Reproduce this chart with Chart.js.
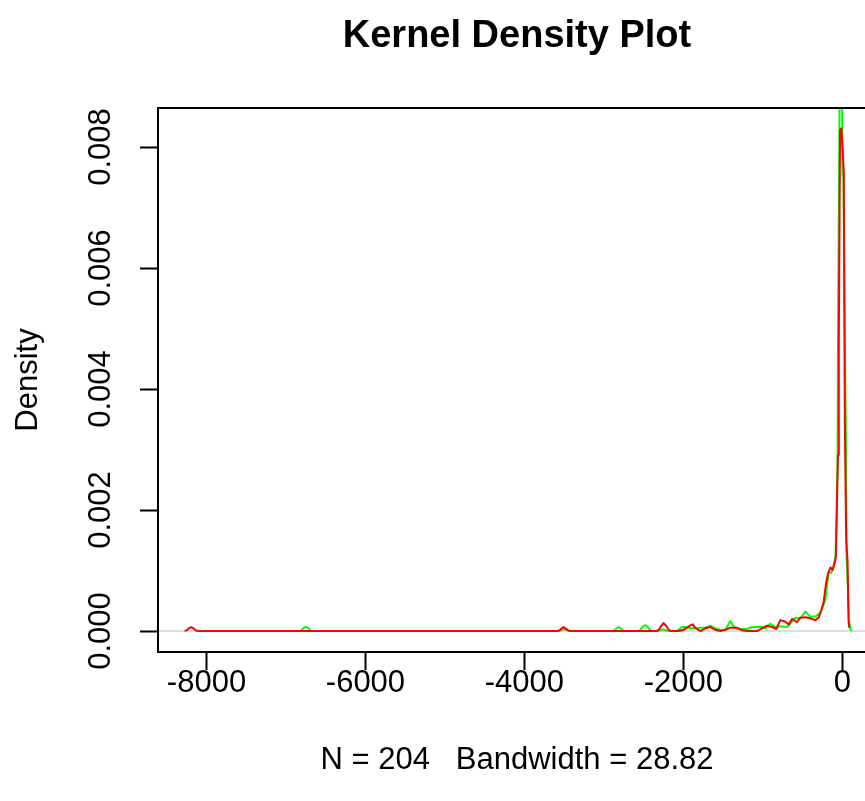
<!DOCTYPE html>
<html>
<head>
<meta charset="utf-8">
<title>Kernel Density Plot</title>
<script src="https://cdn.jsdelivr.net/npm/chart.js@4.4.1/dist/chart.umd.min.js"></script>
<style>
    html, body { margin: 0; padding: 0; background: #fff; overflow: hidden; }
    #wrap { width: 880px; height: 801px; position: relative; }
</style>
</head>
<body>
<div id="wrap"><canvas id="chartDensity"></canvas></div>
<script>
/* ============================================================
   Datos
   ============================================================ */

const xTicks = [-8000, -6000, -4000, -2000, 0];
const yTicks = [0, 0.002, 0.004, 0.006, 0.008];
const xRange = [-8610, 423];
const yRange = [-0.000347, 0.008645];

// curva roja [x, densidad]
const redCurve = [
    [-8275, 0], [-8250, 0.000010], [-8220, 0.000045], [-8193, 0.000066], [-8165, 0.000045], [-8135, 0.000010], [-8110, 0],
    [-3590, 0], [-3560, 0.000010], [-3535, 0.000040], [-3508, 0.000066], [-3480, 0.000040], [-3450, 0.000010], [-3425, 0],
    [-2340, 0], [-2310, 0.000020], [-2280, 0.000080], [-2250, 0.000130], [-2220, 0.000090], [-2190, 0.000030], [-2160, 0],
    [-2060, 0], [-2000, 0.000020], [-1950, 0.000060], [-1905, 0.000100], [-1880, 0.000110], [-1850, 0.000050], [-1800, 0.000010], [-1787, 0],
    [-1724, 0.000045], [-1661, 0.000066], [-1598, 0.000020], [-1535, 0], [-1473, 0.000020], [-1410, 0.000055], [-1325, 0.000055], [-1262, 0.000012], [-1199, 0],
    [-1073, 0], [-1011, 0.000045], [-948, 0.000088], [-885, 0.000066], [-831, 0.000033], [-780, 0.000180], [-717, 0.000154], [-676, 0.000110],
    [-633, 0.000200], [-570, 0.000144], [-529, 0.000220], [-466, 0.000226], [-403, 0.000210], [-340, 0.000180], [-298, 0.000226],
    [-264, 0.000347], [-235, 0.000484], [-205, 0.000790], [-180, 0.000950], [-151, 0.001050], [-122, 0.001010], [-97, 0.001120],
    [-81, 0.001240], [-72, 0.001950], [-55, 0.002910], [-45, 0.004730], [-29, 0.008280], [-13, 0.008310], [4, 0.007950],
    [18, 0.007590], [31, 0.003440], [48, 0.001500], [65, 0.001170], [78, 0.000150], [88, 0.000050]
];

// curva verde [x, densidad]
const greenCurve = [
    [-6840, 0], [-6810, 0.000010], [-6780, 0.000050], [-6750, 0.000070], [-6720, 0.000050], [-6690, 0.000010], [-6660, 0],
    [-3560, 0], [-3530, 0.000020], [-3500, 0.000030], [-3470, 0.000020], [-3440, 0],
    [-2900, 0], [-2870, 0.000010], [-2845, 0.000040], [-2815, 0.000066], [-2785, 0.000040], [-2760, 0.000010], [-2730, 0],
    [-2570, 0], [-2540, 0.000020], [-2510, 0.000070], [-2480, 0.000100], [-2450, 0.000070], [-2420, 0.000020], [-2390, 0],
    [-2320, 0], [-2260, 0.000030], [-2200, 0],
    [-2090, 0], [-2060, 0.000020], [-2030, 0.000060], [-2000, 0.000070], [-1960, 0.000060], [-1913, 0.000045], [-1850, 0.000045],
    [-1787, 0.000055], [-1724, 0.000055], [-1661, 0.000088], [-1598, 0.000045], [-1535, 0.000017], [-1473, 0.000017],
    [-1410, 0.000165], [-1372, 0.000083], [-1325, 0.000033], [-1199, 0.000033], [-1133, 0.000066], [-1007, 0.000066],
    [-969, 0.000045], [-906, 0.000120], [-843, 0.000066], [-780, 0.000080], [-696, 0.000066], [-633, 0.000154], [-592, 0.000220],
    [-529, 0.000210], [-466, 0.000320], [-403, 0.000240], [-340, 0.000240], [-277, 0.000300], [-214, 0.000510], [-172, 0.000980],
    [-138, 0.000960], [-88, 0.001200], [-69, 0.001950], [-60, 0.002900], [-54, 0.005140], [-35, 0.008800], [-21, 0.009500],
    [-6, 0.009000], [3, 0.007540], [13, 0.007500], [28, 0.005200], [44, 0.003300], [53, 0.001200], [67, 0.000800],
    [82, 0.000200], [100, 0.000030], [115, 0]
];

const FONT = "'Liberation Sans', Arial, sans-serif";

/* ============================================================
   Helpers
   ============================================================ */
function toPoints(pairs) {
    return pairs.map(p => ({ x: p[0], y: p[1] }));
}

// marco del área del gráfico (box() de R)
const boxPlugin = {
    id: "boxPlugin",
    afterDraw(chart) {
        const { ctx, chartArea: a } = chart;
        ctx.save();
        ctx.strokeStyle = "#000";
        ctx.lineWidth = 2;
        ctx.strokeRect(a.left, a.top, a.right - a.left, a.bottom - a.top);
        ctx.restore();
    }
};

Chart.defaults.color = "#000";
Chart.defaults.font.family = FONT;

new Chart(document.getElementById("chartDensity"), {
    type: "line",
    data: {
        datasets: [
            {
                data: toPoints(redCurve),
                borderColor: "#FF0000",
                borderWidth: 2
            },
            {
                data: toPoints(greenCurve),
                borderColor: "#00FF00",
                borderWidth: 2
            },
            {
                data: toPoints([[xRange[0], 0], [xRange[1], 0]]),
                borderColor: "#BEBEBE",
                borderWidth: 1
            }
        ]
    },
    options: {
        responsive: true,
        maintainAspectRatio: false,
        animation: false,
        devicePixelRatio: 1,
        layout: { padding: { top: 0, right: 4, bottom: 0, left: 0 } },
        elements: {
            point: { radius: 0, hoverRadius: 0 },
            line: { tension: 0, borderJoinStyle: "round" }
        },
        plugins: {
            legend: { display: false },
            tooltip: { enabled: false },
            title: {
                display: true,
                text: "Kernel Density Plot",
                fullSize: false,
                color: "#000",
                font: { family: FONT, size: 38, weight: "bold", lineHeight: 1.2 },
                padding: { top: 13.5, bottom: 48.9 }
            }
        },
        scales: {
            x: {
                type: "linear",
                min: xRange[0],
                max: xRange[1],
                afterBuildTicks: s => { s.ticks = xTicks.map(v => ({ value: v })); },
                afterFit: s => { s.height = 149; },
                grid: {
                    drawOnChartArea: false,
                    drawTicks: true,
                    tickLength: 18,
                    tickWidth: 2,
                    tickColor: "#000"
                },
                border: { display: false },
                ticks: {
                    padding: -5.6,
                    maxRotation: 0,
                    autoSkip: false,
                    font: { size: 31, lineHeight: 1.2 },
                    callback: v => String(v)
                },
                title: {
                    display: true,
                    text: "N = 204   Bandwidth = 28.82",
                    font: { size: 31, lineHeight: 1.2 },
                    padding: { top: 0, bottom: 22.4 }
                }
            },
            y: {
                type: "linear",
                min: yRange[0],
                max: yRange[1],
                afterBuildTicks: s => { s.ticks = yTicks.map(v => ({ value: v })); },
                afterFit: s => { s.width = 158; },
                grid: {
                    drawOnChartArea: false,
                    drawTicks: true,
                    tickLength: 18,
                    tickWidth: 2,
                    tickColor: "#000"
                },
                border: { display: false },
                ticks: {
                    padding: 0,
                    minRotation: 90,
                    maxRotation: 90,
                    crossAlign: "center",
                    autoSkip: false,
                    font: { size: 31, lineHeight: 1.2 },
                    callback: v => v.toFixed(3)
                },
                title: {
                    display: true,
                    text: "Density",
                    font: { size: 31, lineHeight: 1.2 },
                    padding: { top: 9.4, bottom: 0 }
                }
            }
        }
    },
    plugins: [boxPlugin]
});
</script>
</body>
</html>
